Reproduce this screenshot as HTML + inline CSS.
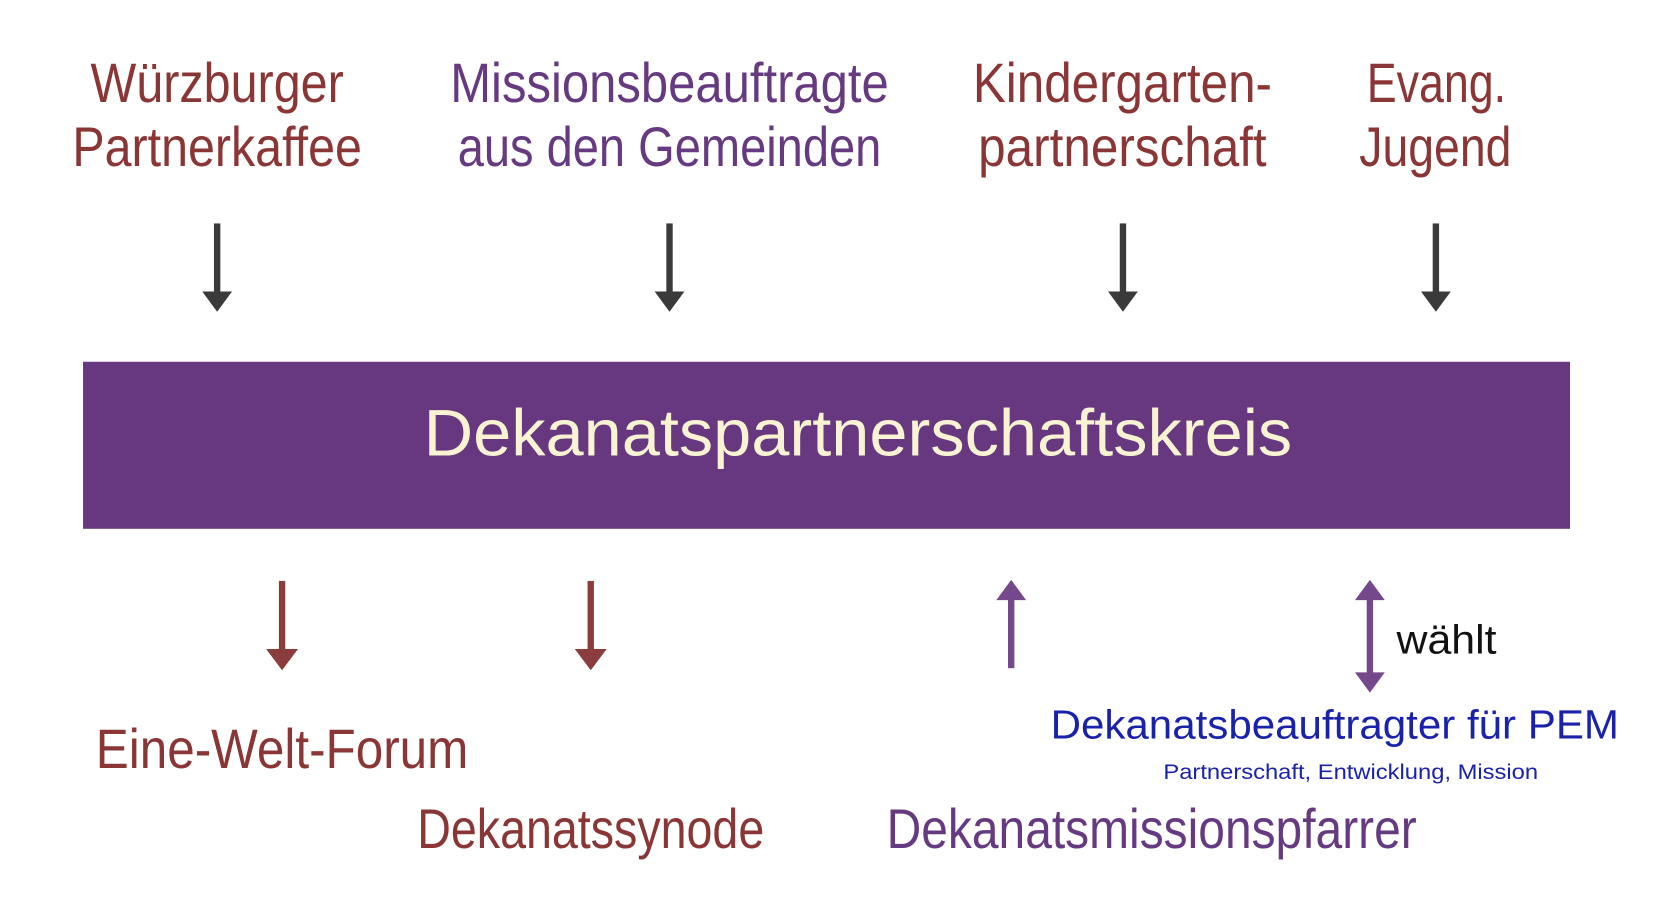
<!DOCTYPE html>
<html><head><meta charset="utf-8"><style>
html,body{margin:0;padding:0;background:#fff;}
svg{display:block;}
text{font-family:"Liberation Sans",sans-serif;}
</style></head><body>
<svg width="1669" height="898" viewBox="0 0 1568 844" preserveAspectRatio="none">
<g font-size="52" lengthAdjust="spacingAndGlyphs">
<text x="85" y="96" textLength="238" lengthAdjust="spacingAndGlyphs" fill="#8a3636">Würzburger</text>
<text x="68" y="156" textLength="272" lengthAdjust="spacingAndGlyphs" fill="#8a3636">Partnerkaffee</text>
<text x="423" y="96" textLength="412" lengthAdjust="spacingAndGlyphs" fill="#663a80">Missionsbeauftragte</text>
<text x="430" y="156" textLength="398" lengthAdjust="spacingAndGlyphs" fill="#663a80">aus den Gemeinden</text>
<text x="914" y="96" textLength="281" lengthAdjust="spacingAndGlyphs" fill="#8a3636">Kindergarten-</text>
<text x="919" y="156" textLength="271" lengthAdjust="spacingAndGlyphs" fill="#8a3636">partnerschaft</text>
<text x="1284" y="96" textLength="131" lengthAdjust="spacingAndGlyphs" fill="#8a3636">Evang.</text>
<text x="1277" y="156" textLength="143" lengthAdjust="spacingAndGlyphs" fill="#8a3636">Jugend</text>
</g>
<g fill="#3a3a3a">
<rect x="201" y="210" width="6" height="66"/><polygon points="190,274 218,274 204,293"/>
<rect x="626" y="210" width="6" height="66"/><polygon points="615,274 643,274 629,293"/>
<rect x="1052" y="210" width="6" height="66"/><polygon points="1041,274 1069,274 1055,293"/>
<rect x="1346" y="210" width="6" height="66"/><polygon points="1335,274 1363,274 1349,293"/>
</g>
<rect x="78" y="340" width="1397" height="157" fill="#673780"/>
<text x="398" y="428" font-size="62" textLength="816" lengthAdjust="spacingAndGlyphs" fill="#f8f3d2">Dekanatspartnerschaftskreis</text>
<g fill="#8b3c3c">
<rect x="262" y="546" width="6" height="66"/><polygon points="250,610 280,610 265,630"/>
<rect x="552" y="546" width="6" height="66"/><polygon points="540,610 570,610 555,630"/>
</g>
<g fill="#74488a">
<rect x="947" y="562" width="6" height="66"/><polygon points="936,564 964,564 950,545"/>
<rect x="1284" y="562" width="6" height="74"/><polygon points="1273,564 1301,564 1287,545"/><polygon points="1273,632 1301,632 1287,651"/>
</g>
<text x="1312" y="614" font-size="38" textLength="94" lengthAdjust="spacingAndGlyphs" fill="#111">wählt</text>
<text x="987" y="694" font-size="38" textLength="534" lengthAdjust="spacingAndGlyphs" fill="#1a22aa">Dekanatsbeauftragter für PEM</text>
<text x="1093" y="732" font-size="20" textLength="352" lengthAdjust="spacingAndGlyphs" fill="#1a22aa">Partnerschaft, Entwicklung, Mission</text>
<g font-size="52">
<text x="90" y="722" textLength="350" lengthAdjust="spacingAndGlyphs" fill="#8a3636">Eine-Welt-Forum</text>
<text x="392" y="797" textLength="326" lengthAdjust="spacingAndGlyphs" fill="#8a3636">Dekanatssynode</text>
<text x="833" y="797" textLength="498" lengthAdjust="spacingAndGlyphs" fill="#663a80">Dekanatsmissionspfarrer</text>
</g>
</svg>
</body></html>
